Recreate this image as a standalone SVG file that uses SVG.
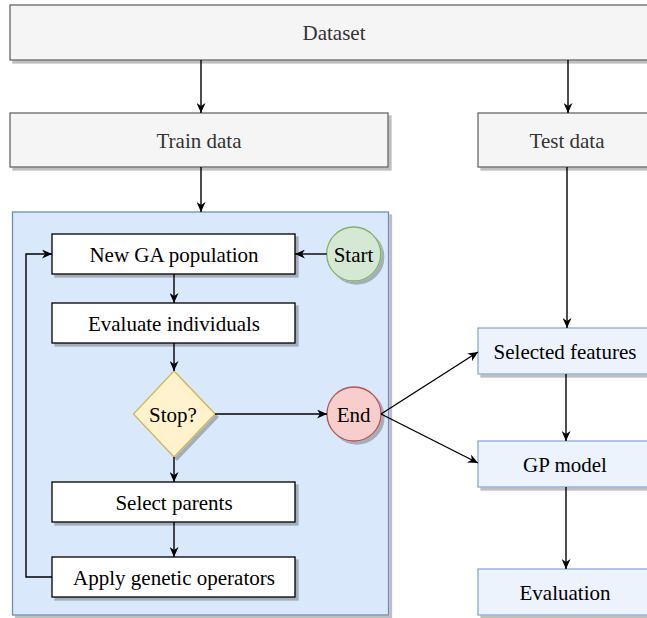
<svg xmlns="http://www.w3.org/2000/svg" width="647" height="618" viewBox="0 0 647 618">
<style>
text{font-family:'Liberation Serif','Times New Roman',Times,'DejaVu Serif',serif;font-size:21px;text-anchor:middle;fill:#000}
.grey{fill:#f5f5f5;stroke:#666;stroke-width:1.3}
.grey-t{fill:#333}
.white{fill:#fff;stroke:#000;stroke-width:1.3}
.blue{fill:#ecf3fd;stroke:#8aaad8;stroke-width:1.3}
.cont{fill:#dae8fc;stroke:#6c8ebf;stroke-width:1.3}
.sh{filter:url(#shadow)}
.edge{fill:none;stroke:#000;stroke-width:1.4;marker-end:url(#arr)}
</style>
<defs>
<filter id="shadow" x="-10%" y="-10%" width="130%" height="130%">
<feDropShadow dx="3" dy="3" stdDeviation="0.6" flood-color="#000" flood-opacity="0.25"/>
</filter>
<marker id="arr" markerUnits="userSpaceOnUse" markerWidth="11" markerHeight="9" refX="10" refY="4.5" orient="auto">
<path d="M0,0 L10,4.5 L0,9 L3,4.5 Z" fill="#000"/>
</marker>
</defs>
<g font-family="Liberation Serif, Times New Roman, serif">
<g id="dataset"><rect class="grey sh" x="10" y="5" width="660" height="55"/><text class="grey-t" x="334" y="40">Dataset</text></g>
<g id="train"><rect class="grey sh" x="10" y="113" width="378" height="54"/><text class="grey-t" x="199" y="147.5">Train data</text></g>
<g id="test"><rect class="grey sh" x="478" y="113" width="190" height="54"/><text class="grey-t" x="567" y="147.5">Test data</text></g>

<g id="ga-container"><rect class="cont sh" x="12.5" y="212" width="376" height="403"/></g>
<g id="new-pop"><rect class="white sh" x="52" y="234" width="243" height="40"/><text x="174" y="262">New GA population</text></g>
<g id="evaluate"><rect class="white sh" x="52" y="303" width="243" height="40"/><text x="174" y="331">Evaluate individuals</text></g>
<g id="stop"><polygon class="sh" points="174,371 215,414 174,457 133.5,414" fill="#fff2cc" stroke="#d6b656" stroke-width="1.3"/><text x="173" y="421.5">Stop?</text></g>
<g id="select"><rect class="white sh" x="52" y="482" width="243" height="40"/><text x="174" y="510">Select parents</text></g>
<g id="apply"><rect class="white sh" x="52" y="557" width="243" height="40"/><text x="174" y="585">Apply genetic operators</text></g>
<g id="start"><circle class="sh" cx="353.7" cy="254" r="27" fill="#d5e8d4" stroke="#82b366" stroke-width="1.3"/><text x="353.5" y="261.5">Start</text></g>
<g id="end"><circle class="sh" cx="354" cy="414" r="27" fill="#f8cecc" stroke="#b85450" stroke-width="1.3"/><text x="353.7" y="421.5">End</text></g>

<g id="selected"><rect class="blue sh" x="478" y="328" width="190" height="46"/><text x="565" y="358.5">Selected features</text></g>
<g id="gp"><rect class="blue sh" x="478" y="441" width="190" height="46"/><text x="565" y="471.5">GP model</text></g>
<g id="evaluation"><rect class="blue sh" x="478" y="569" width="190" height="46"/><text x="565" y="599.5">Evaluation</text></g>
</g>
<g id="connectors">
<path class="edge" d="M201,60 V113"/>
<path class="edge" d="M568,60 V113"/>
<path class="edge" d="M201,167 V212"/>
<path class="edge" d="M326.7,254 H295"/>
<path class="edge" d="M174,274 V303"/>
<path class="edge" d="M174,343 V371"/>
<path class="edge" d="M215,414 H327"/>
<path class="edge" d="M174,457 V482"/>
<path class="edge" d="M174,522 V557"/>
<path class="edge" d="M52,577 H26 V254 H52"/>
<path class="edge" d="M381,414 L478,352"/>
<path class="edge" d="M381,414 L478,463"/>
<path class="edge" d="M567,167 V328"/>
<path class="edge" d="M566,374 V441"/>
<path class="edge" d="M566,487 V569"/>
</g>
</svg>
